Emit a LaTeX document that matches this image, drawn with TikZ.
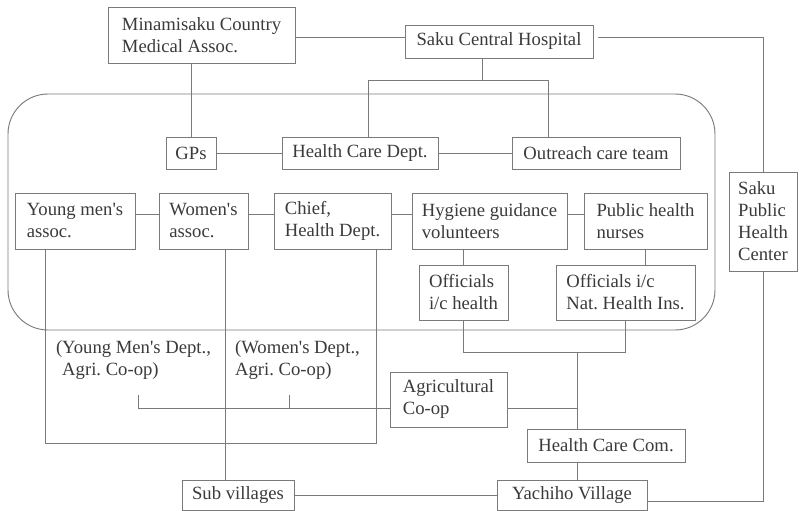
\documentclass[tikz,border=0pt]{standalone}
\usepackage{fontspec}
\setmainfont{Liberation Serif}
\usetikzlibrary{calc}
\definecolor{linegray}{HTML}{7A7A7A}
\definecolor{textgray}{HTML}{3A3A3A}
\frenchspacing

\begin{document}
\begin{tikzpicture}[x=0.75pt,y=-0.75pt,
    orgbox/.style={draw=linegray, line width=0.7pt, text=textgray, align=left, inner sep=2pt,
        font=\fontsize{14}{16.5}\selectfont},
    orglabel/.style={text=textgray, align=left, inner sep=2pt, font=\fontsize{14}{16.5}\selectfont},
    link/.style={draw=linegray, line width=0.7pt}]
    \useasboundingbox (0,0) rectangle (801,511);
    \draw[link, rounded corners=30pt] (8,94) rectangle (715,330);

    \node[orgbox, minimum width=140.25pt, minimum height=42pt] at (201.5,35) (med) {Minamisaku Country\\Medical Assoc.};
    \node[orgbox, minimum width=141pt, minimum height=24.75pt] at (499,41.5) (hosp) {Saku Central Hospital};
    \node[orgbox, minimum width=51pt, minimum height=74.25pt] at (763,221.5) (sphc) {Saku\\Public\\Health\\Center};
    \node[orgbox, minimum width=37.5pt, minimum height=24pt] at (191,153) (gps) {GPs};
    \node[orgbox, minimum width=117pt, minimum height=24pt] at (360,153) (hcd) {Health Care Dept.};
    \node[orgbox, minimum width=126pt, minimum height=24pt] at (596,153) (out) {Outreach care team};
    \node[orgbox, minimum width=90pt, minimum height=42pt] at (75,221) (ym) {Young men\textquotesingle s\\assoc.};
    \node[orgbox, minimum width=66.75pt, minimum height=42pt] at (203.5,221) (wa) {Women\textquotesingle s\\assoc.};
    \node[orgbox, minimum width=87.75pt, minimum height=42pt] at (332.5,221) (chief) {Chief,\\Health Dept.};
    \node[orgbox, minimum width=116.25pt, minimum height=42pt] at (489.5,221) (hyg) {Hygiene guidance\\volunteers};
    \node[orgbox, minimum width=92.25pt, minimum height=42pt] at (645.5,221) (phn) {Public health\\nurses};
    \node[orgbox, minimum width=66.75pt, minimum height=41.25pt] at (463.5,292.5) (oh) {Officials\\i/c health};
    \node[orgbox, minimum width=104.25pt, minimum height=41.25pt] at (625.5,292.5) (oni) {Officials i/c\\Nat. Health Ins.};
    \node[orgbox, minimum width=87.75pt, minimum height=41.25pt] at (448.5,399.5) (agri) {Agricultural\\Co-op};
    \node[orgbox, minimum width=118.5pt, minimum height=24.75pt] at (606,445.5) (hcc) {Health Care Com.};
    \node[orgbox, minimum width=112.5pt, minimum height=22.5pt] at (572,495) (yach) {Yachiho Village};
    \node[orgbox, minimum width=84pt, minimum height=22.5pt] at (238,495) (sub) {Sub villages};
    \node[orglabel] at (133.5,360) (ymd) {(Young Men\textquotesingle s Dept.,\\\phantom{(}Agri. Co-op)};
    \node[orglabel] at (297.5,360) (wd) {(Women\textquotesingle s Dept.,\\Agri. Co-op)};

    \coordinate (hm) at (482,80);
    \coordinate (hl) at (368,80);
    \coordinate (hr) at (548,80);
    \coordinate (ojoin) at (577,352);
    \coordinate (ajoin) at (577,408);
    \coordinate (yj) at (138,408);
    \coordinate (wj) at (289,408);
    \coordinate (ymdfoot) at (138,395);
    \coordinate (wdfoot) at (289,395);
    \coordinate (bl) at (45,443);
    \coordinate (br) at (376,443);
    \coordinate (wline) at (225,443);

    \draw[link] (med.east |- 0,37) -- (hosp.west |- 0,37);
    \draw[link] ([xshift=3.5pt]hosp.east |- 0,37) -| (sphc.north);
    \draw[link] (hosp.south -| hm) -- (hm);
    \draw[link] (hcd.north -| hl) -- (hl) -- (hr) -- (out.north -| hr);
    \draw[link] (gps.north |- med.south) -- (gps.north);
    \draw[link] (gps.east) -- (hcd.west);
    \draw[link] (hcd.east) -- (out.west);
    \draw[link] ([yshift=5.25pt]ym.east) -- ([yshift=5.25pt]wa.west);
    \draw[link] ([yshift=5.25pt]wa.east) -- ([yshift=5.25pt]chief.west);
    \draw[link] ([yshift=5.25pt]chief.east) -- ([yshift=5.25pt]hyg.west);
    \draw[link] ([yshift=5.25pt]hyg.east) -- ([yshift=5.25pt]phn.west);
    \draw[link] (hyg.south -| oh.north) -- (oh.north);
    \draw[link] (phn.south) -- (phn.south |- oni.north);
    \draw[link] (oh.south) |- (oni.south |- ojoin) -- (oni.south);
    \draw[link] (ojoin) -- (hcc.north -| ojoin);
    \draw[link] (agri.east |- ajoin) -- (ajoin);
    \draw[link] (agri.west |- yj) -- (yj) -- (ymdfoot);
    \draw[link] (wdfoot) -- (wj);
    \draw[link] (ym.south -| bl) -- (bl) -- (br) -- (chief.south -| br);
    \draw[link] (wa.south -| wline) -- (sub.north -| wline);
    \draw[link] (sub.east) -- (yach.west);
    \draw[link] (hcc.south -| ojoin) -- (yach.north -| ojoin);
    \draw[link] ([yshift=-4.5pt]yach.east) -| (sphc.south);
\end{tikzpicture}
\end{document}
